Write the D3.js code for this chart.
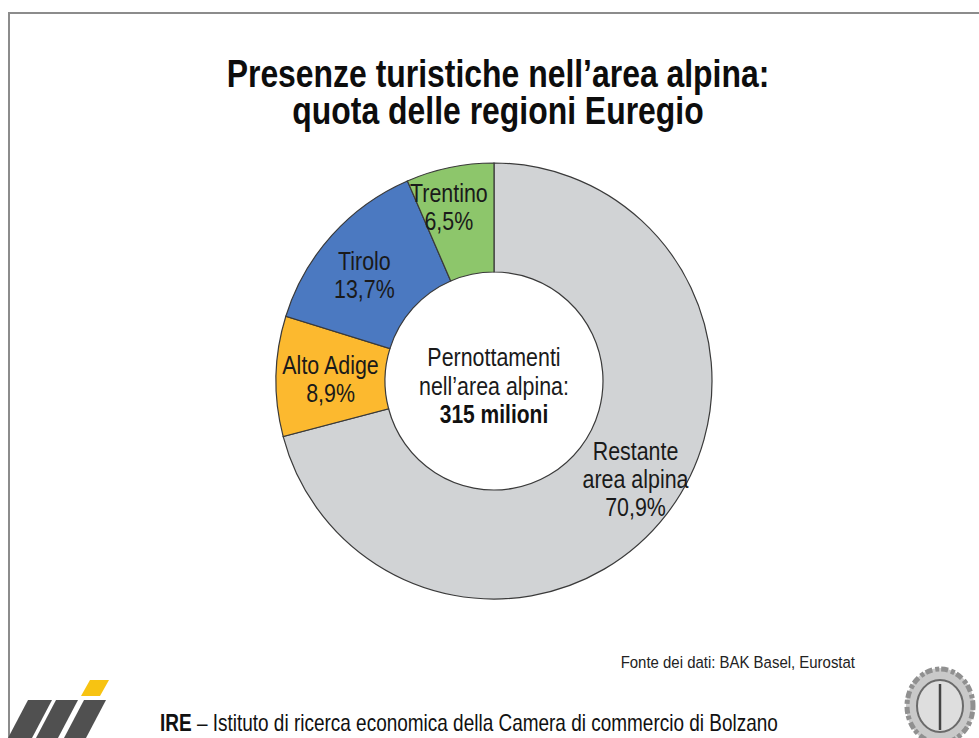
<!DOCTYPE html>
<html><head><meta charset="utf-8">
<script src="https://cdn.jsdelivr.net/npm/d3@7"></script>
<style>
html,body{margin:0;padding:0;background:#fff;}
svg{display:block;}
text{font-family:"Liberation Sans",Arial,sans-serif;}
</style></head>
<body>
<svg id="chart" width="979" height="738"></svg>
<script>
// ---- data ----
const categories = ["Restante area alpina", "Alto Adige", "Tirolo", "Trentino"];
const shares = [70.9, 8.9, 13.7, 6.5];
const labelLines = [["Restante", "area alpina"], ["Alto Adige"], ["Tirolo"], ["Trentino"]];
const valueLabels = ["70,9%", "8,9%", "13,7%", "6,5%"];
const titleLines = ["Presenze turistiche nell\u2019area alpina:", "quota delle regioni Euregio"];
const centerLines = ["Pernottamenti", "nell\u2019area alpina:"];
const centerTotal = "315 milioni";
const sourceText = "Fonte dei dati: BAK Basel, Eurostat";
const footerBold = "IRE";
const footerText = " \u2013 Istituto di ricerca economica della Camera di commercio di Bolzano";

// ---- styles / layout ----
const colors = ["#d1d3d5", "#fcb92f", "#4b79c1", "#8dc66b"];
const labelNudge = [[12, -2], [0, 2], [-8, 3], [-12, -14]];
const cx = 494, cy = 381, rOuter = 218, rInner = 109;
const NARROW = 0.83;

const svg = d3.select("#chart");

// condensed text helper
function ntext(parent, x, y, str, size, opts = {}) {
  const t = parent.append("text")
    .attr("transform", `translate(${x},${y}) scale(${opts.sx || NARROW},1)`)
    .attr("text-anchor", opts.anchor || "middle")
    .attr("font-size", size)
    .attr("font-weight", opts.bold ? "bold" : "normal")
    .attr("fill", opts.fill || "#1a1a1a");
  if (str !== null) t.text(str);
  return t;
}

// frame
svg.append("path").attr("d", "M9,738 L9,13 L979,13")
  .attr("fill", "none").attr("stroke", "#8c8c8c").attr("stroke-width", 2);

// title
titleLines.forEach((s, i) => ntext(svg, 498, 87 + i * 37, s, 38, { bold: true, fill: "#0d0d0d", sx: 0.84 }));

// donut
const pie = d3.pie().sort(null).value(d => d)(shares);
const arc = d3.arc().innerRadius(rInner).outerRadius(rOuter);
const g = svg.append("g").attr("transform", `translate(${cx},${cy})`);
g.selectAll("path.slice").data(pie).join("path").attr("class", "slice")
  .attr("d", arc).attr("fill", (d, i) => colors[i])
  .attr("stroke", "#3a3a3a").attr("stroke-width", 1.2);

// slice labels
pie.forEach((d, i) => {
  const [x, y] = arc.centroid(d);
  const lines = labelLines[i].concat([valueLabels[i]]);
  const lh = 28;
  lines.forEach((s, k) => {
    ntext(g, x + labelNudge[i][0], y + labelNudge[i][1] + (k - (lines.length - 1) / 2) * lh + 9, s, 25.5, { sx: 0.84 });
  });
});

// center text
centerLines.forEach((s, k) => ntext(g, 0, -15 + k * 29, s, 25.5, { sx: 0.84 }));
ntext(g, 0, 42, centerTotal, 25, { bold: true, fill: "#111", sx: 0.84 });

// source
ntext(svg, 855, 668, sourceText, 17, { anchor: "end", fill: "#222", sx: 0.88 });

// footer
const ft = ntext(svg, 160, 731, null, 23, { anchor: "start", fill: "#111", sx: 0.825 });
ft.append("tspan").attr("font-weight", "bold").text(footerBold);
ft.append("tspan").text(footerText);

// IRE logo
const logo = svg.append("g");
[[12, 24], [40, 22], [68, 22]].forEach(([a, w]) => {
  logo.append("path").attr("d", `M${a + 16},700 L${a + 16 + w},700 L${a + w - 4},738 L${a - 4},738 Z`).attr("fill", "#505050");
});
logo.append("path").attr("d", "M90,680 L109,680 L100,696 L81,696 Z").attr("fill", "#f7c312");

// coat of arms (approximation)
const coa = svg.append("g").attr("transform", "translate(940,706)");
coa.append("ellipse").attr("rx", 34).attr("ry", 38).attr("fill", "#c9c9c9");
coa.append("ellipse").attr("rx", 33).attr("ry", 37).attr("fill", "none").attr("stroke", "#909090").attr("stroke-width", 5).attr("stroke-dasharray", "4 2 7 3");
coa.append("ellipse").attr("rx", 23).attr("ry", 26).attr("fill", "#dedede").attr("stroke", "#6a6a6a").attr("stroke-width", 2);
coa.append("line").attr("x1", 0).attr("x2", 0).attr("y1", -22).attr("y2", 24).attr("stroke", "#444").attr("stroke-width", 2.5);
</script>
</body></html>
